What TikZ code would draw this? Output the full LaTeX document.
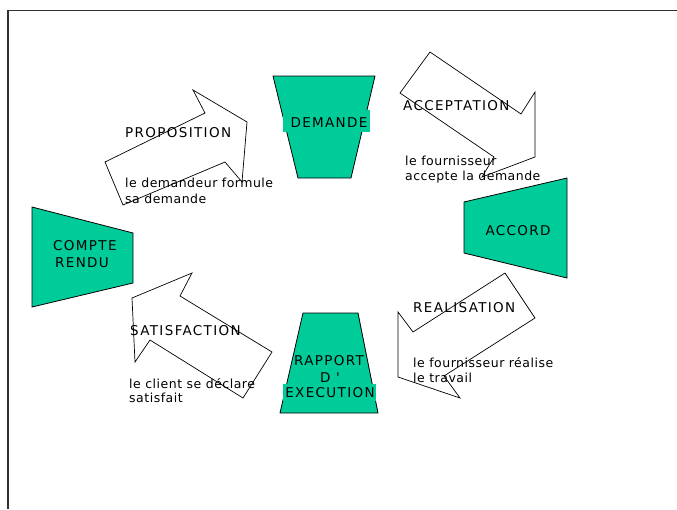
\documentclass[tikz,border=0pt]{standalone}
\usepackage{fontspec}
\setmainfont{DejaVu Sans}
\newfontfamily\capsface{DejaVu Sans}[LetterSpace=10]
\newfontfamily\textface{DejaVu Sans}[LetterSpace=4]
\definecolor{stagegreen}{HTML}{00CC99}
\definecolor{framegray}{HTML}{303030}
\tikzset{
  stage/.style={draw=black, line width=0.8pt, fill=stagegreen, line join=miter},
  flow/.style={draw=black, line width=0.7pt, fill=white, line join=miter},
  caps/.style={inner sep=0pt, font=\capsface\fontsize{13.5}{16}\selectfont},
  note/.style={inner sep=0pt, anchor=base west, font=\textface\fontsize{12.5}{15}\selectfont},
  patch/.style={fill=stagegreen, draw=none},
}
\begin{document}
\begin{tikzpicture}[x=1pt, y=-1pt]
  \useasboundingbox (0,0) rectangle (677,509);
  \fill[white] (0,0) rectangle (677,509);

  % page frame
  \draw[framegray, line width=1.3pt] (8,509) -- (8,10.5) -- (677,10.5);

  % ---------- block arrows ----------
  % PROPOSITION
  \draw[flow] (105,162) -- (205,113) -- (193,90) -- (247,122) -- (242,182)
              -- (225,162) -- (123,205) -- cycle;
  % ACCEPTATION
  \draw[flow] (430,52) -- (521,114) -- (535,92) -- (535,157) -- (482,177)
              -- (494,157) -- (400,93) -- cycle;
  % REALISATION
  \draw[flow] (505,273) -- (413,332) -- (398,312) -- (398,377) -- (460,398)
              -- (444,376) -- (535,318) -- cycle;
  % SATISFACTION
  \draw[flow] (272,352) -- (180,296) -- (192,273) -- (132,298) -- (135,362)
              -- (150,340) -- (243,398) -- cycle;

  % ---------- stages ----------
  % DEMANDE
  \draw[stage] (273,76) -- (375,76) -- (351,178) -- (298,178) -- cycle;
  \fill[patch] (283,110) rectangle (370,132);
  % ACCORD
  \draw[stage] (464,202) -- (567,178) -- (567,278) -- (464,253) -- cycle;
  % COMPTE RENDU
  \draw[stage] (32,207) -- (133,233) -- (133,283) -- (32,307) -- cycle;
  % RAPPORT D'EXECUTION
  \draw[stage] (303,313) -- (358,313) -- (378,413) -- (280,413) -- cycle;
  \fill[patch] (283,384) rectangle (376,401);

  % ---------- stage labels ----------
  \node[caps, anchor=base] (demande) at (329,127) {DEMANDE};
  \node[caps, anchor=base] (accord) at (518,235) {ACCORD};
  \node[caps, anchor=base west] (compte) at (53,250) {COMPTE};
  \node[caps, anchor=base west] (rendu) at (55,267) {RENDU};
  \node[caps, anchor=base] (rapport) at (329,365) {RAPPORT};
  \node[caps, anchor=base] (dprime) at (330,382) {D '};
  \node[caps, anchor=base] (execution) at (330,397) {EXECUTION};

  % ---------- arrow labels ----------
  \node[caps, anchor=base west] (proposition) at (125,137) {PROPOSITION};
  \node[note] (prop1) at (125,187) {le demandeur formule};
  \node[note] (prop2) at (125,203) {sa demande};

  \node[caps, anchor=base west] (acceptation) at (403,110) {ACCEPTATION};
  \node[note] (acc1) at (405,165) {le fournisseur};
  \node[note] (acc2) at (405,180) {accepte la demande};

  \node[caps, anchor=base west] (realisation) at (413,312) {REALISATION};
  \node[note] (real1) at (413,367) {le fournisseur réalise};
  \node[note] (real2) at (413,382) {le travail};

  \node[caps, anchor=base west] (satisfaction) at (130,335) {SATISFACTION};
  \node[note] (sat1) at (129,388) {le client se déclare};
  \node[note] (sat2) at (129,402) {satisfait};
\end{tikzpicture}
\end{document}
